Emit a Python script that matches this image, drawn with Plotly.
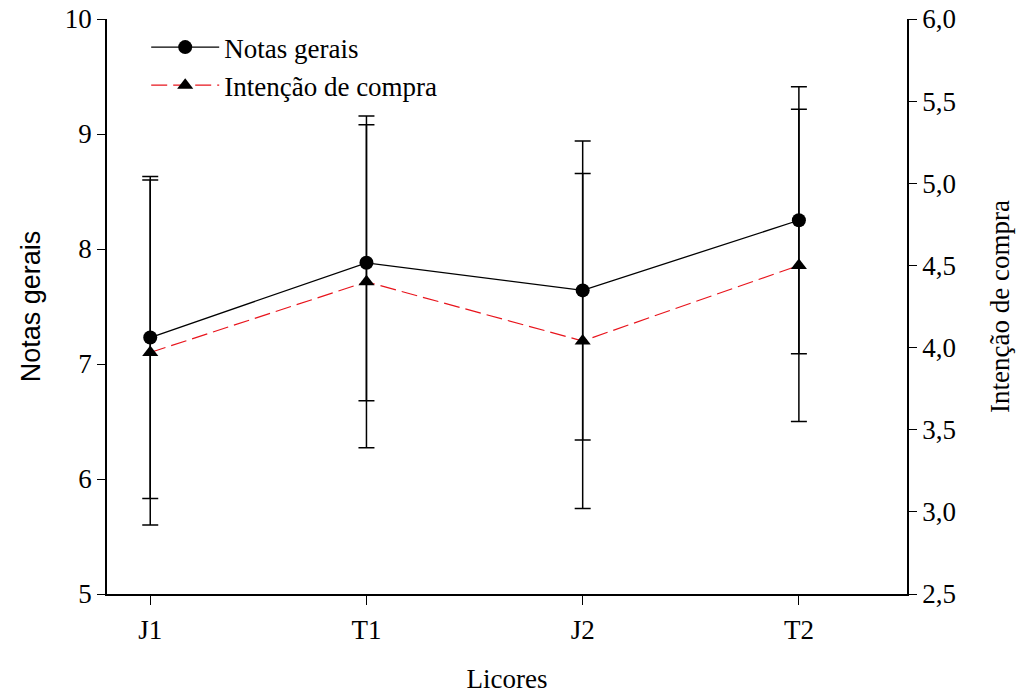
import plotly.graph_objects as go

categories = ["J1", "T1", "J2", "T2"]
notas = [7.23, 7.88, 7.64, 8.25]
notas_err = [1.40, 1.20, 1.30, 1.16]
intencao = [3.97, 4.40, 4.04, 4.50]
intencao_err = [1.05, 1.01, 1.02, 0.95]

serif = "Liberation Serif, Times New Roman, serif"
sans = "Liberation Sans, Arial, sans-serif"
FS = 27

fig = go.Figure()
fig.add_trace(go.Scatter(
    x=categories, y=notas, name="Notas gerais", mode="lines+markers",
    line=dict(color="black", width=1.3),
    marker=dict(symbol="circle", size=14, color="black"),
    error_y=dict(type="data", array=notas_err, visible=True, color="black", thickness=1.5, width=8),
))
fig.add_trace(go.Scatter(
    x=categories, y=intencao, name="Intenção de compra", mode="lines+markers", yaxis="y2",
    line=dict(color="#e8141c", width=1.2, dash="16px,6px"),
    marker=dict(symbol="triangle-up", size=14, color="black"),
    error_y=dict(type="data", array=intencao_err, visible=True, color="black", thickness=1.5, width=8),
))

fig.update_layout(
    width=1017, height=695,
    paper_bgcolor="white", plot_bgcolor="white",
    margin=dict(l=107, r=110, t=19, b=101, autoexpand=False),
    separators=",.",
    font=dict(family=serif, size=FS, color="black"),
    showlegend=True,
    legend=dict(x=0.049, y=0.993, xanchor="left", yanchor="top", bgcolor="rgba(0,0,0,0)",
                font=dict(family=serif, size=FS), tracegroupgap=0, itemwidth=68),
    xaxis=dict(
        type="category", range=[-0.2, 3.5], automargin=False,
        showline=True, linecolor="black", linewidth=1.5, mirror=False,
        ticks="outside", ticklen=9, tickcolor="black", tickwidth=1,
        ticklabelstandoff=2,
        showgrid=False, zeroline=False,
        title=dict(text="Licores", font=dict(family=serif, size=FS), standoff=25),
        tickfont=dict(family=serif, size=FS),
    ),
    yaxis=dict(
        range=[5, 10], dtick=1, tickformat="d", automargin=False,
        ticklabeloverflow="allow",
        showline=True, linecolor="black", linewidth=1.5,
        ticks="outside", ticklen=8, tickcolor="black", tickwidth=1,
        showgrid=False, zeroline=False,
        title=dict(text="Notas gerais", font=dict(family=sans, size=FS), standoff=16),
        tickfont=dict(family=serif, size=FS),
    ),
    yaxis2=dict(
        range=[2.5, 6.0], dtick=0.5, tickformat=".1f", overlaying="y", side="right", automargin=False,
        ticklabeloverflow="allow",
        showline=True, linecolor="black", linewidth=1.5,
        ticks="outside", ticklen=8, tickcolor="black", tickwidth=1,
        showgrid=False, zeroline=False,
        title=dict(text="Intenção de compra", font=dict(family=serif, size=FS), standoff=35),
        tickfont=dict(family=serif, size=FS),
    ),
)

fig.write_html("out.html", config={"displayModeBar": False},
               post_script="document.body.style.margin='0';")
